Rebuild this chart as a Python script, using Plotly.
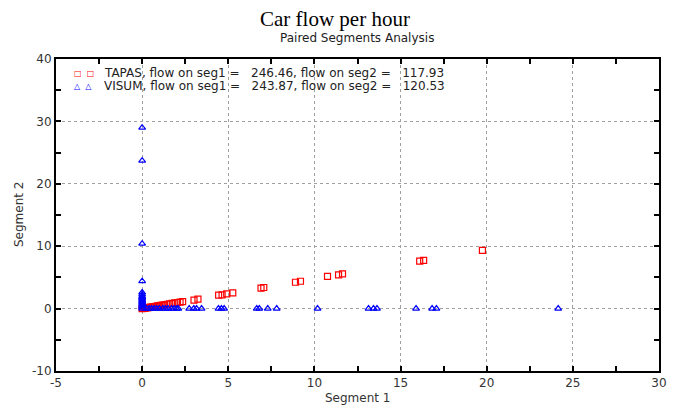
import plotly.graph_objects as go

# TAPAS (red squares)
tapas_x = [0.0, 0.05, 0.1, 0.15, 0.2, 0.3, 0.35, 0.4, 0.5, 0.6, 0.7, 0.8, 0.9, 1.0, 1.1,
           1.2, 1.3, 1.45, 1.6, 1.75, 1.9, 2.05, 2.2, 2.35, 3.01, 3.24, 4.44, 4.64, 4.91,
           5.26, 6.9, 7.06, 8.9, 9.19, 10.76, 11.4, 11.63, 16.11, 16.34, 19.75]
tapas_y = [0.0, 0.02, 0.05, 0.07, 0.1, 0.14, 0.17, 0.19, 0.24, 0.29, 0.33, 0.38, 0.43, 0.48, 0.53,
           0.57, 0.62, 0.7, 0.77, 0.84, 0.91, 0.98, 1.05, 1.13, 1.36, 1.52, 2.15, 2.2, 2.36,
           2.52, 3.27, 3.38, 4.22, 4.38, 5.18, 5.42, 5.55, 7.62, 7.73, 9.33]

# VISUM (blue triangles)
visum_x = [0.0, 0.0, 0.0, 0.0, 0.0, 0.0, 0.0, 0.0, 0.0, 0.0, 0.0, 0.0, 0.0, 0.0, 0.0, 0.0, 0.0,
           0.25, 0.4, 0.55, 0.7, 0.85, 1.0, 1.2, 1.35, 1.5, 1.7, 1.85, 2.0, 2.1,
           2.73, 3.0, 3.16, 3.45, 4.43, 4.6, 4.76, 6.65, 6.8, 7.29, 7.81, 10.18,
           13.14, 13.43, 13.63, 15.9, 16.83, 17.08, 24.15]
visum_y = [29.0, 23.7, 10.4, 4.4, 2.6, 2.3, 2.0, 1.8, 1.6, 1.4, 1.2, 1.0, 0.8, 0.6, 0.4, 0.2, 0.0,
           0.0, 0.0, 0.0, 0.0, 0.0, 0.0, 0.0, 0.0, 0.0, 0.0, 0.0, 0.0, 0.0,
           0.0, 0.0, 0.0, 0.0, 0.0, 0.0, 0.0, 0.0, 0.0, 0.0, 0.0, 0.0,
           0.0, 0.0, 0.0, 0.0, 0.0, 0.0, 0.0]

x_ticks = [-5, 0, 5, 10, 15, 20, 25, 30]
y_ticks = [-10, 0, 10, 20, 30, 40]

legend_labels = ["TAPAS, flow on seg1 =   246.46, flow on seg2 =   117.93",
                 "VISUM, flow on seg1 =   243.87, flow on seg2 =   120.53"]

FONT = "DejaVu Sans"
OFF = 8  # page body margin in the browser

fig = go.Figure()
fig.add_trace(go.Scatter(x=tapas_x, y=tapas_y, mode="markers", name="TAPAS",
                         marker=dict(symbol="square-open", size=6, color="#ff0000",
                                     line=dict(width=1.2, color="#ff0000"))))
fig.add_trace(go.Scatter(x=visum_x, y=visum_y, mode="markers", name="VISUM",
                         marker=dict(symbol="triangle-up-open", size=6, color="#0000ff",
                                     line=dict(width=1.2, color="#0000ff"))))

axis_common = dict(
    showline=True, linecolor="black", linewidth=2, mirror="ticks",
    ticks="inside", ticklen=5, tickwidth=1.5, tickcolor="black",
    showgrid=True, gridcolor="#a0a0a0", griddash="dot", gridwidth=1,
    zeroline=False, tickfont=dict(family=FONT, size=12, color="#333333"),
    automargin=False,
)

fig.update_xaxes(range=[-5, 30], tickvals=x_ticks, ticktext=[str(v) for v in x_ticks],
                 minor=dict(dtick=2.5, tick0=0, ticks="inside", ticklen=5, tickcolor="black",
                            tickwidth=1.5, showgrid=False),
                 **axis_common)
fig.update_yaxes(range=[-10, 40], tickvals=y_ticks, ticktext=[str(v) for v in y_ticks],
                 minor=dict(dtick=5, tick0=0, ticks="inside", ticklen=5, tickcolor="black",
                            tickwidth=1.5, showgrid=False),
                 **axis_common)

L, T, R, B = 56, 59, 659, 371
PW, PH = R - L, B - T

def px_x(p):
    return (p - L) / PW

annotations = [
    dict(text="Car flow per hour", xref="paper", yref="paper", x=px_x(334.5), y=1,
         yshift=40, xanchor="center", yanchor="middle", showarrow=False,
         font=dict(family="Liberation Serif", size=21, color="black")),
    dict(text="Paired Segments Analysis", xref="paper", yref="paper", x=px_x(356.5), y=1,
         yshift=21, xanchor="center", yanchor="middle", showarrow=False,
         font=dict(family=FONT, size=12, color="#222222")),
    dict(text="Segment 1", xref="paper", yref="paper", x=px_x(357), y=0,
         yshift=-27, xanchor="center", yanchor="middle", showarrow=False,
         font=dict(family=FONT, size=12, color="#333333")),
    dict(text="Segment 2", xref="paper", yref="paper", x=0, xshift=-37, y=(B - 215) / PH,
         xanchor="center", yanchor="middle", textangle=-90, showarrow=False,
         font=dict(family=FONT, size=12, color="#333333")),
]

legend_marks = [("□\u00a0\u00a0□", "#ff0000"), ("△\u00a0\u00a0△", "#0000ff")]
for i, (lab, (mk, col)) in enumerate(zip(legend_labels, legend_marks)):
    txt = lab.replace(" ", "\u00a0")
    annotations.append(dict(
        text=mk, xref="paper", yref="paper",
        x=px_x(72), y=1, yshift=-(14 + 13 * i), xanchor="left", yanchor="middle",
        showarrow=False, font=dict(family=FONT, size=8, color=col)))
    annotations.append(dict(
        text=txt, xref="paper", yref="paper",
        x=px_x(102), y=1, yshift=-(14 + 13 * i), xanchor="left", yanchor="middle",
        showarrow=False, font=dict(family=FONT, size=12, color="#222222")))

fig.update_layout(
    width=683 - OFF, height=408 - OFF,
    margin=dict(l=L - OFF, r=683 - R, t=T - OFF, b=408 - B),
    paper_bgcolor="white", plot_bgcolor="white",
    showlegend=False,
    annotations=annotations,
)

fig.write_html("out.html")
